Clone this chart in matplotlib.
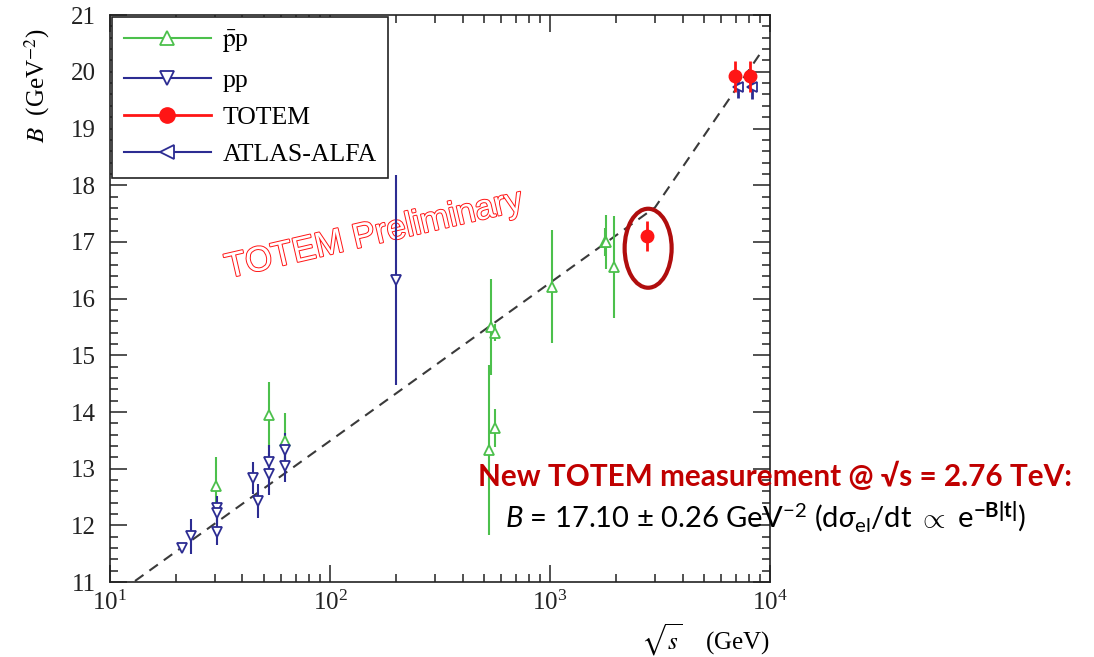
import matplotlib.pyplot as plt
import matplotlib.patheffects as pe
from matplotlib.patches import Ellipse
from matplotlib.transforms import ScaledTranslation
from matplotlib.ticker import MultipleLocator, LogLocator, NullFormatter

plt.rcParams['font.family'] = ['Liberation Serif', 'DejaVu Serif']
plt.rcParams['mathtext.fontset'] = 'stix'
plt.rcParams['mathtext.rm'] = 'Lato'
plt.rcParams['mathtext.it'] = 'Lato:italic'
plt.rcParams['mathtext.bf'] = 'Lato:bold'

# p-bar p data (sqrt(s) in GeV, B in GeV^-2, error)
ppbar_s = [30.4, 52.6, 62.3, 541, 560, 560, 528, 1020, 1780, 1800, 1960]
ppbar_B = [12.70, 13.95, 13.49, 15.50, 15.40, 13.72, 13.33, 16.21, 17.00, 17.00, 16.56]
ppbar_err = [0.50, 0.58, 0.50, 0.84, 0.15, 0.33, 1.50, 1.00, 0.25, 0.48, 0.90]

# pp data
pp_s = [21.2, 23.3, 30.6, 30.6, 30.6, 44.7, 47.0, 52.8, 52.8, 62.5, 62.5, 200]
pp_B = [11.60, 11.81, 12.31, 12.22, 11.88, 12.84, 12.43, 13.12, 12.91, 13.33, 13.05, 16.33]
pp_err = [0.05, 0.31, 0.20, 0.20, 0.23, 0.28, 0.30, 0.30, 0.37, 0.30, 0.28, 1.85]

# TOTEM
totem_s = [2760, 6900, 8100]
totem_B = [17.10, 19.92, 19.92]
totem_err = [0.26, 0.27, 0.27]

# ATLAS-ALFA
atlas_s = [7150, 8250]
atlas_B = [19.73, 19.74]
atlas_err = [0.20, 0.22]

# dashed fit curve
fit_s = [13, 3000, 9300]
fit_B = [11.02, 17.61, 20.40]

green = '#4cc04c'
blue = '#2c2c92'
red = '#ff1515'

fig = plt.figure(figsize=(10.94, 6.57), dpi=100)
ax = fig.add_axes([0.1005, 0.114, 0.6035, 0.863])

ax.plot(fit_s, fit_B, color='#3a3a3a', lw=1.5, dashes=(5, 3.5), zorder=1)

ax.errorbar(ppbar_s, ppbar_B, yerr=ppbar_err, fmt='^', color=green, mfc='white',
            mec=green, ms=7.5, mew=1.3, elinewidth=1.5, capsize=0, zorder=3)
ax.errorbar(pp_s, pp_B, yerr=pp_err, fmt='v', color=blue, mfc='white',
            mec=blue, ms=7.5, mew=1.3, elinewidth=1.5, capsize=0, zorder=3)
ax.errorbar(atlas_s, atlas_B, yerr=atlas_err, fmt='<', color=blue, mfc='white',
            mec=blue, ms=7.5, mew=1.3, elinewidth=2, capsize=0, zorder=4)
ax.errorbar(totem_s, totem_B, yerr=totem_err, fmt='o', color=red, ms=9,
            elinewidth=2, capsize=0, zorder=5)

# legend handles
h1, = ax.plot([], [], '-^', color=green, mfc='white', ms=10, mew=1.3, lw=1.5)
h2, = ax.plot([], [], '-v', color=blue, mfc='white', ms=10, mew=1.3, lw=1.5)
h3, = ax.plot([], [], '-o', color=red, ms=11, lw=2)
h4, = ax.plot([], [], '-<', color=blue, mfc='white', ms=10, mew=1.3, lw=1.5)
leg = ax.legend([h1, h2, h3, h4], [r'$\bar{\mathrm{p}}$p', 'pp', 'TOTEM', 'ATLAS-ALFA'],
                loc='upper left', fontsize=18.5, handlelength=3.4, handletextpad=0.45,
                labelspacing=0.55, borderaxespad=0.08, borderpad=0.45,
                fancybox=False, edgecolor='#222222', framealpha=1)
leg.get_frame().set_linewidth(1.2)

ax.set_xscale('log')
ax.set_xlim(10, 1e4)
ax.set_ylim(11, 21)
ax.yaxis.set_major_locator(MultipleLocator(1))
ax.yaxis.set_minor_locator(MultipleLocator(0.2))
ax.xaxis.set_minor_locator(LogLocator(base=10, subs=range(2, 10)))
ax.xaxis.set_minor_formatter(NullFormatter())
ax.tick_params(which='both', direction='in', top=True, right=True, labelsize=18,
               width=1.1, colors='#222222')
ax.tick_params(which='major', length=12)
ax.tick_params(which='minor', length=6)
ax.tick_params(axis='y', pad=10)
ax.tick_params(axis='x', pad=6)
for sp in ax.spines.values():
    sp.set_linewidth(1.2)
    sp.set_color('#222222')

ax.set_ylabel(r'$B$  (GeV$^{-2}$)', fontsize=18)
ax.yaxis.set_label_coords(-0.088, 0.875)
ax.set_xlabel(r'$\sqrt{s}$    (GeV)', fontsize=18, ha='right')
ax.xaxis.set_label_coords(1.0, -0.07)

# watermark
ax.text(0.40, 0.613, 'TOTEM Preliminary', transform=ax.transAxes, rotation=13,
        ha='center', va='center', fontsize=25, color='white',
        family=['Liberation Sans', 'DejaVu Sans'],
        path_effects=[pe.withStroke(linewidth=1.4, foreground=red)], zorder=2)

# ellipse around the 2.76 TeV point
off = ScaledTranslation(totem_s[0], totem_B[0], ax.transData)
ax.add_patch(Ellipse((0.01, -0.12), 0.47, 0.79, transform=fig.dpi_scale_trans + off,
                     fill=False, edgecolor='#b00d0d', lw=3, zorder=6, clip_on=False))

fig.text(478 / 1094, 1 - 476 / 657, 'New TOTEM measurement @ \u221as = 2.76 TeV:',
         fontsize=21.4, fontweight='bold', color='#c00000', ha='left', va='center',
         family=['Lato', 'DejaVu Sans'])
fig.text(505 / 1094, 1 - 517 / 657,
         r'$B$ = 17.10 $\pm$ 0.26 GeV$^{-2}$ (d$\sigma_{\mathrm{el}}$/dt $\propto$ e$^{\mathbf{-B|t|}}$)',
         fontsize=21, color='black', ha='left', va='center', math_fontfamily='custom',
         family=['Lato', 'DejaVu Sans'])

fig.savefig('out.png', dpi=100)
